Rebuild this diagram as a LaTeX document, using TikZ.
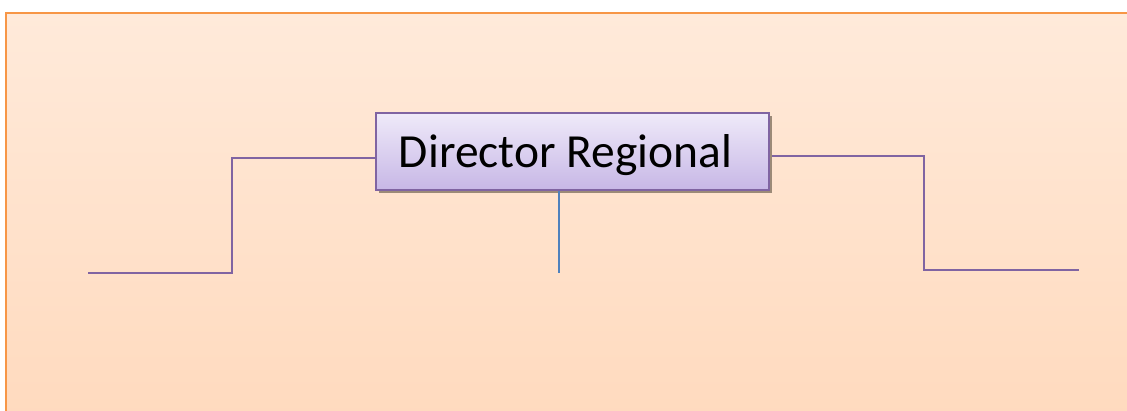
\documentclass[tikz,border=0pt]{standalone}
\usepackage{fontspec}
\setmainfont{Carlito}
\usetikzlibrary{shadows}
\definecolor{bgtop}{HTML}{FFEADA}
\definecolor{bgbot}{HTML}{FFDABE}
\definecolor{bgline}{HTML}{F79646}
\definecolor{boxtop}{HTML}{EFEAF9}
\definecolor{boxbot}{HTML}{C7B7E6}
\definecolor{boxline}{HTML}{8064A2}
\definecolor{midline}{HTML}{4F81BD}
\definecolor{shadowc}{HTML}{9C8A78}
\tikzset{
  conn/.style={draw=boxline, line width=2.2pt},
  midconn/.style={draw=midline, line width=1.8pt},
  titlebox/.style={draw=boxline, line width=1.8pt, top color=boxtop, bottom color=boxbot,
    minimum width=393pt, minimum height=77pt, inner sep=0pt,
    drop shadow={shadow xshift=3pt, shadow yshift=-3pt, fill=shadowc, opacity=1}},
  titletext/.style={font=\fontsize{47.5}{56}\selectfont, text=black, inner sep=0pt, anchor=base}
}
\begin{document}
\begin{tikzpicture}[x=1pt,y=-1pt]
\useasboundingbox (0,0) rectangle (1127,410);
\begin{scope}
\clip (0,0) rectangle (1127,410);
\shade[top color=bgtop, bottom color=bgbot] (6,13) rectangle (1135,420);
\draw[bgline, line width=2.2pt] (6,420) -- (6,13) -- (1135,13);
\end{scope}
% connector ends
\coordinate (lc) at (232,158);
\coordinate (ll) at (88,273);
\coordinate (rc) at (924,156);
\coordinate (rr) at (1079,270);
\coordinate (mb) at (559,273);
\draw[conn] (376,158) -- (lc) |- (ll);
\draw[conn] (769,156) -- (rc) |- (rr);
\node[titlebox] (box) at (572.5,151.5) {};
\draw[midconn] (box.south -| mb) -- (mb);
\node[titletext] (title) at (565.5,167) {Director Regional};
\end{tikzpicture}
\end{document}
